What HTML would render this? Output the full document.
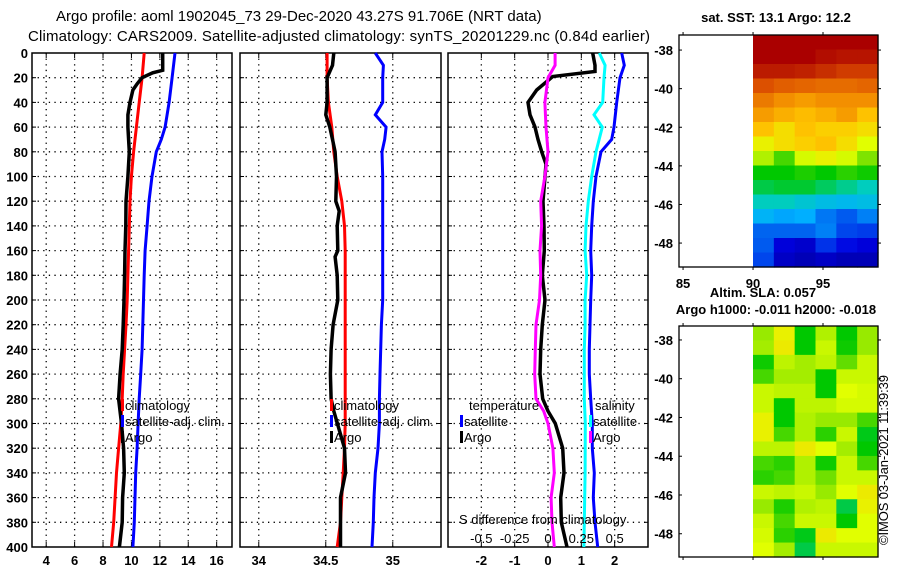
<!DOCTYPE html>
<html><head><meta charset="utf-8"><style>
html,body{margin:0;padding:0;background:#fff;}
svg{display:block;font-family:"Liberation Sans",Arial,sans-serif;}
.t{font-size:15px;fill:#000;}
.tk{font-size:13px;font-weight:bold;fill:#000;}
.lg{font-size:13px;fill:#000;}
</style></head><body>
<svg id="chart" width="900" height="580" viewBox="0 0 900 580" xmlns="http://www.w3.org/2000/svg">
<rect width="900" height="580" fill="#fff"/>
<text class="t" x="56" y="21">Argo profile: aoml 1902045_73 29-Dec-2020 43.27S 91.706E (NRT data)</text>
<text class="t" x="28" y="41" textLength="622">Climatology: CARS2009. Satellite-adjusted climatology: synTS_20201229.nc (0.84d earlier)</text>
<g id="plots"></g>
<text class="lg" x="888" y="545" transform="rotate(-90 888 545)" textLength="170">©IMOS 03-Jan-2021 11:39:39</text>
</svg>
<script>
// ---- depth axis ----
const depthTicks = [0,20,40,60,80,100,120,140,160,180,200,220,240,260,280,300,320,340,360,380,400];
// ---- panel 1: temperature ----
const tTicks = [4,6,8,10,12,14,16];
const tClimDepth = [0,20,40,60,80,100,120,140,160,180,200,220,240,260,280,300,320,340,360,380,400];
const tClim = [10.9,10.75,10.55,10.35,10.15,10.0,9.9,9.85,9.8,9.75,9.7,9.62,9.52,9.42,9.35,9.25,9.1,8.95,8.85,8.75,8.6];
const tSatDepth = [0,20,40,60,70,80,100,120,140,160,180,200,220,240,260,280,300,320,340,360,380,400];
const tSat = [13.07,12.86,12.65,12.37,12.1,11.75,11.45,11.24,11.1,10.96,10.9,10.85,10.8,10.75,10.65,10.55,10.47,10.4,10.3,10.25,10.2,10.1];
const tArgoDepth = [0,14,16,20,25,30,40,50,60,80,100,120,140,160,180,200,220,240,260,280,300,320,340,360,380,400];
const tArgo = [12.2,12.2,11.5,10.75,10.4,10.1,9.9,9.75,9.75,9.85,9.75,9.62,9.6,9.55,9.52,9.48,9.42,9.35,9.2,9.1,9.3,9.45,9.5,9.38,9.35,9.15];
// ---- panel 2: salinity ----
const sTicks = [34,34.5,35];
const sTickLabels = ['34','34.5','35'];
const sClimDepth = [0,20,40,60,80,100,120,140,160,180,200,220,240,260,280,300,320,340,360,380,400];
const sClim = [34.51,34.51,34.52,34.545,34.56,34.585,34.62,34.64,34.645,34.645,34.645,34.645,34.645,34.645,34.645,34.645,34.64,34.63,34.62,34.61,34.585];
const sSatDepth = [0,10,20,40,50,60,70,80,100,120,140,160,180,200,220,240,260,280,300,320,340,360,380,400];
const sSat = [34.87,34.93,34.925,34.925,34.87,34.95,34.94,34.92,34.925,34.925,34.925,34.925,34.925,34.925,34.915,34.91,34.905,34.9,34.9,34.89,34.87,34.86,34.855,34.845];
const sArgoDepth = [0,10,20,40,50,60,70,80,100,120,128,140,160,165,180,200,220,240,260,280,290,320,340,360,380,400];
const sArgo = [34.56,34.55,34.51,34.51,34.50,34.53,34.55,34.57,34.58,34.575,34.6,34.585,34.59,34.57,34.585,34.59,34.555,34.54,34.535,34.54,34.56,34.64,34.647,34.61,34.61,34.61];
// ---- panel 3: differences ----
const dTicks = [-2,-1,0,1,2];
const dsTicks = [-0.5,-0.25,0,0.25,0.5];
const dsTickLabels = ['-0.5','-0.25','0','0.25','0.5'];
const dtArgoDepth = [0,10,15,19,30,40,50,60,70,80,90,100,120,140,160,180,200,220,240,260,280,290,300,320,340,360,380,400];
const dtArgo = [1.34,1.41,1.41,0.14,-0.34,-0.6,-0.54,-0.39,-0.3,-0.19,-0.06,-0.09,-0.15,-0.12,-0.11,-0.17,-0.09,-0.17,-0.22,-0.24,-0.16,0,0.22,0.44,0.48,0.38,0.40,0.57];
const dtSatDepth = [0,10,20,40,60,70,80,100,120,140,160,180,200,220,240,260,280,300,320,340,360,380,400];
const dtSat = [2.21,2.29,2.16,2.06,1.98,1.91,1.59,1.44,1.36,1.31,1.28,1.31,1.28,1.26,1.24,1.24,1.28,1.33,1.33,1.39,1.36,1.41,1.49];
const dsArgoDepth = [0,10,20,40,60,80,100,120,140,160,180,200,220,240,260,280,290,300,320,340,360,380,400];
const dsArgo = [0.053,0.053,0,-0.023,-0.015,0,-0.023,-0.055,-0.048,-0.06,-0.055,-0.064,-0.09,-0.095,-0.10,-0.09,-0.032,0,0.037,0.047,0.023,0.03,0.047];
const dsSatDepth = [0,10,20,40,50,60,80,100,120,140,160,180,200,220,240,260,280,300,340,400];
const dsSat = [0.385,0.428,0.42,0.41,0.345,0.407,0.36,0.328,0.302,0.285,0.278,0.29,0.278,0.278,0.272,0.272,0.272,0.28,0.278,0.269];
// ---- maps ----
const latTicks = [-38,-40,-42,-44,-46,-48];
const lonTicks = [85,90,95];
const sstGrid = [
[1,1,1,1,1,1],
[1,1,1,0.98,0.97,0.97],
[0.96,0.96,0.95,0.93,0.91,0.91],
[0.88,0.86,0.85,0.84,0.84,0.85],
[0.82,0.79,0.77,0.79,0.79,0.79],
[0.77,0.74,0.72,0.74,0.77,0.71],
[0.71,0.67,0.71,0.69,0.69,0.67],
[0.64,0.67,0.69,0.71,0.67,0.62],
[0.58,0.5,0.61,0.64,0.61,0.54],
[0.45,0.45,0.47,0.45,0.48,0.46],
[0.42,0.43,0.43,0.41,0.39,0.37],
[0.37,0.37,0.35,0.33,0.32,0.33],
[0.31,0.29,0.3,0.24,0.21,0.25],
[0.22,0.22,0.22,0.25,0.19,0.18],
[0.21,0.11,0.09,0.17,0.13,0.11],
[0.19,0.08,0.06,0.08,0.06,0.06]];
const slaGrid = [
[0.56,0.64,0.45,0.58,0.45,0.56],
[0.57,0.65,0.45,0.6,0.46,0.56],
[0.46,0.59,0.57,0.59,0.52,0.6],
[0.5,0.57,0.57,0.45,0.6,0.6],
[0.6,0.59,0.59,0.45,0.62,0.61],
[0.6,0.45,0.59,0.59,0.61,0.61],
[0.64,0.45,0.58,0.56,0.56,0.5],
[0.64,0.5,0.58,0.48,0.6,0.44],
[0.59,0.59,0.65,0.62,0.57,0.45],
[0.5,0.48,0.58,0.46,0.6,0.5],
[0.48,0.5,0.58,0.53,0.6,0.6],
[0.6,0.59,0.6,0.56,0.62,0.65],
[0.56,0.47,0.58,0.59,0.42,0.64],
[0.6,0.5,0.6,0.6,0.45,0.62],
[0.61,0.48,0.44,0.65,0.62,0.62],
[0.62,0.57,0.42,0.6,0.6,0.6]];

const NS='http://www.w3.org/2000/svg';
const root=document.getElementById('plots');
function mk(tag,attrs,parent){const e=document.createElementNS(NS,tag);for(const k in attrs)e.setAttribute(k,attrs[k]);(parent||root).appendChild(e);return e;}
const Y0=53,Y1=547;
function yD(d){return Y0+(d/400)*(Y1-Y0);}
function scaleX(x0,x1,a,b){return v=>x0+(v-a)/(b-a)*(x1-x0);}

function frame(x0,x1,name,xs,ticks,labels){
  const g=mk('g',{});
  
  
  depthTicks.forEach((d,i)=>{ if(i>0&&i<depthTicks.length-1){
    const l=mk('line',{x1:x0,x2:x1,y1:yD(d),y2:yD(d),stroke:'#000','stroke-width':1.3,'stroke-dasharray':'1.3,4.3'},g);
    
    
    mk('line',{x1:x0,x2:x0+4,y1:yD(d),y2:yD(d),stroke:'#000'},g);
    mk('line',{x1:x1-4,x2:x1,y1:yD(d),y2:yD(d),stroke:'#000'},g);
  }});
  ticks.forEach((t,i)=>{
    const x=xs(t);
    const l=mk('line',{x1:x,x2:x,y1:Y0,y2:Y1,stroke:'#000','stroke-width':1.3,'stroke-dasharray':'1.3,4.3'},g);
    
    
    mk('line',{x1:x,x2:x,y1:Y0,y2:Y0+5,stroke:'#000'},g);
    mk('line',{x1:x,x2:x,y1:Y1-5,y2:Y1,stroke:'#000'},g);
    const tx=mk('text',{x:x,y:565,'text-anchor':'middle',class:'tk'},g);
    tx.textContent=labels?labels[i]:String(t);
    
    
  });
  const r=mk('rect',{x:x0,y:Y0,width:x1-x0,height:Y1-Y0,fill:'none',stroke:'#000','stroke-width':1.5},g);
  
  
  return g;
}
function profile(g,xs,vals,depths,color,w,name){
  const pts=vals.map((v,i)=>xs(v).toFixed(1)+','+yD(depths[i]).toFixed(1)).join(' ');
  const p=mk('polyline',{points:pts,fill:'none',stroke:color,'stroke-width':w,'stroke-linejoin':'miter'},g);
  
  
}
function legend(g,x,y,color,label,name){
  const m=mk('rect',{x:x,y:y-11,width:3,height:12,fill:color},g);
  
  
  const t=mk('text',{x:x+4,y:y,class:'lg'},g);
  t.textContent=label;
  
  
}
function txt(g,x,y,s,name,cls,anchor){
  const t=mk('text',{x:x,y:y,class:cls||'lg','text-anchor':anchor||'start'},g);
  t.textContent=s;
  
  
  return t;
}

// depth tick labels
depthTicks.forEach(d=>{
  const t=mk('text',{x:28,y:yD(d)+5,'text-anchor':'end',class:'tk'});
  t.textContent=String(d);
  
  
});

// Panel 1
const xT=scaleX(32,232,3,17.08);
const g1=frame(32,232,'temperature-panel',xT,tTicks);
profile(g1,xT,tClim,tClimDepth,'#ff0000',3,'temperature-climatology-line');
profile(g1,xT,tSat,tSatDepth,'#0000ff',3,'temperature-satellite-adj-line');
profile(g1,xT,tArgo,tArgoDepth,'#000000',3.5,'temperature-argo-line');
legend(g1,121,410,'#ff0000','climatology','legend-climatology');
legend(g1,121,426,'#0000ff','satellite-adj. clim.','legend-satellite-adj');
legend(g1,121,442,'#000000','Argo','legend-argo');

// Panel 2
const xS=scaleX(240,441,33.86,35.36);
const g2=frame(240,441,'salinity-panel',xS,sTicks,sTickLabels);
profile(g2,xS,sClim,sClimDepth,'#ff0000',3,'salinity-climatology-line');
profile(g2,xS,sSat,sSatDepth,'#0000ff',3,'salinity-satellite-adj-line');
profile(g2,xS,sArgo,sArgoDepth,'#000000',3.5,'salinity-argo-line');
legend(g2,330,410,'#ff0000','climatology','legend-climatology');
legend(g2,330,426,'#0000ff','satellite-adj. clim.','legend-satellite-adj');
legend(g2,330,442,'#000000','Argo','legend-argo');

// Panel 3
const xD=scaleX(448,648,-3,3);
const xDS=scaleX(448,648,-0.75,0.75);
const g3=frame(448,648,'difference-panel',xD,dTicks);
profile(g3,xDS,dsSat,dsSatDepth,'#00ffff',3,'salinity-diff-satellite-line');
profile(g3,xD,dtSat,dtSatDepth,'#0000ff',3,'temperature-diff-satellite-line');
profile(g3,xD,dtArgo,dtArgoDepth,'#000000',3.5,'temperature-diff-argo-line');
profile(g3,xDS,dsArgo,dsArgoDepth,'#ff00ff',3,'salinity-diff-argo-line');
txt(g3,469,410,'temperature','legend-temperature-heading');
legend(g3,460,426,'#0000ff','satellite','legend-temp-satellite');
legend(g3,460,442,'#000000','Argo','legend-temp-argo');
txt(g3,595,410,'salinity','legend-salinity-heading');
legend(g3,589,426,'#00ffff','satellite','legend-sal-satellite');
legend(g3,589,442,'#ff00ff','Argo','legend-sal-argo');
txt(g3,459,524,'S difference from climatology','s-axis-title');
dsTicks.forEach((t,i)=>{ txt(g3,xDS(t),543,dsTickLabels[i],'s-tick-label','lg','middle'); });

// colormap
const cstops=[[0,[0,0,140]],[0.12,[0,0,225]],[0.22,[0,100,240]],[0.3,[0,175,255]],[0.37,[0,205,190]],[0.45,[0,200,0]],[0.55,[140,230,0]],[0.62,[225,255,0]],[0.7,[255,200,0]],[0.78,[245,150,0]],[0.88,[220,80,0]],[1,[170,0,0]]];
function cmap(v){for(let i=1;i<cstops.length;i++){if(v<=cstops[i][0]){const a=cstops[i-1],b=cstops[i];const f=(v-a[0])/(b[0]-a[0]);const c=a[1].map((x,j)=>Math.round(x+(b[1][j]-x)*f));return 'rgb('+c.join(',')+')';}}return 'rgb(170,0,0)';}

function map(top,bot,lat0,lat1,grid,name){
  const g=mk('g',{});
  
  
  const X0=679,X1=878,IX=753;
  const xl=scaleX(X0,X1,84.71,98.93);
  const yl=v=>top+(lat0-v)/(lat0-lat1)*(bot-top);
  const rows=grid.length,cols=grid[0].length;
  const cw=(X1-IX)/cols,ch=(bot-top)/rows;
  grid.forEach((row,r)=>row.forEach((v,c)=>{
    const cell=mk('rect',{x:IX+c*cw,y:top+r*ch,width:cw+0.6,height:ch+0.6,fill:cmap(v)},g);
    
    
  }));
  const f=mk('rect',{x:X0,y:top,width:X1-X0,height:bot-top,fill:'none',stroke:'#000','stroke-width':1.3},g);
  
  
  latTicks.forEach(l=>{
    const y=yl(l);
    mk('line',{x1:X0,x2:X0+3,y1:y,y2:y,stroke:'#000'},g);
    mk('line',{x1:X1,x2:X1+3,y1:y,y2:y,stroke:'#000'},g);
    txt(g,673,y+5,String(l),'lat-tick-label','tk','end');
  });
  lonTicks.forEach(l=>{
    const x=xl(l);
    mk('line',{x1:x,x2:x,y1:top-3,y2:top,stroke:'#000'},g);
    mk('line',{x1:x,x2:x,y1:bot,y2:bot+3,stroke:'#000'},g);
  });
  return {g,xl};
}
const m1=map(35,267,-37.22,-49.24,sstGrid,'sst-map');
txt(m1.g,776,22,'sat. SST: 13.1 Argo: 12.2','sst-map-title','tk','middle');
lonTicks.forEach(l=>txt(m1.g,m1.xl(l),288,String(l),'lon-tick-label','tk','middle'));
const m2=map(326,557,-37.28,-49.2,slaGrid,'sla-map');
txt(m2.g,763,297,'Altim. SLA: 0.057','sla-map-title','tk','middle');
txt(m2.g,776,314,'Argo h1000: -0.011 h2000: -0.018','sla-map-subtitle','tk','middle');
</script>
</body></html>
